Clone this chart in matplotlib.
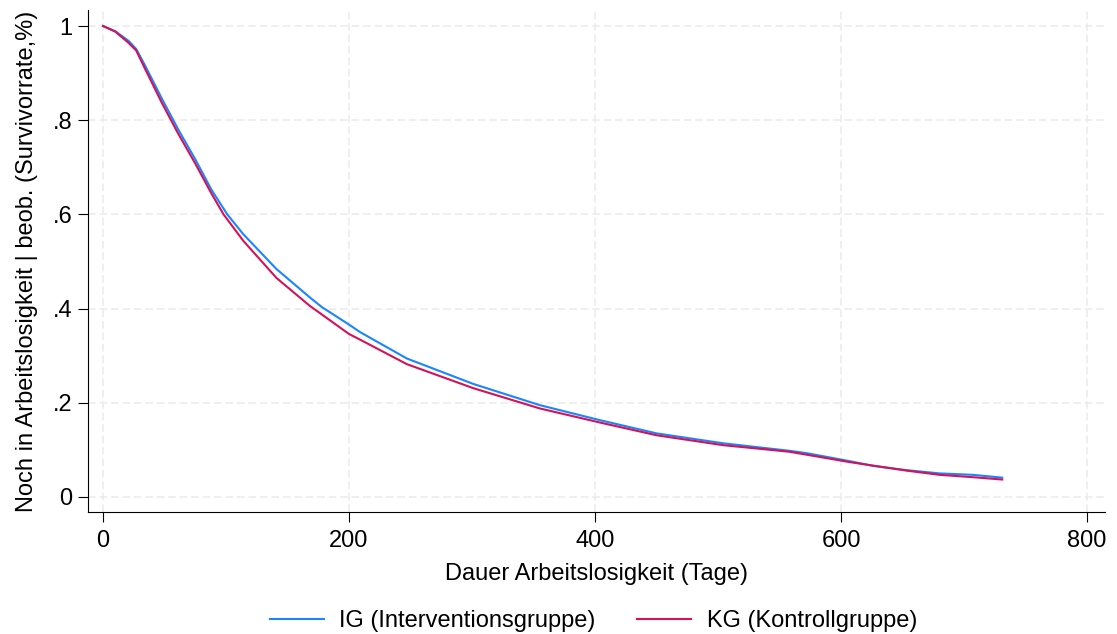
import matplotlib.pyplot as plt

plt.rcParams['font.family'] = ['Liberation Sans', 'DejaVu Sans']

# survivor curves read at selected days
ig_days = [0, 10, 21, 27, 34, 48, 61, 75, 88, 101, 114, 141, 168, 178, 200, 209,
           247, 301, 355, 404, 450, 504, 558, 572, 607, 626, 653, 680, 707, 731]
ig_surv = [1.0, 0.989, 0.968, 0.951, 0.917, 0.845, 0.781, 0.717, 0.653, 0.60,
           0.558, 0.484, 0.424, 0.403, 0.366, 0.350, 0.294, 0.240, 0.195, 0.163,
           0.135, 0.114, 0.098, 0.093, 0.076, 0.066, 0.057, 0.050, 0.047, 0.041]

kg_days = [0, 10, 20, 27, 34, 48, 61, 75, 88, 98, 114, 141, 168, 200, 209,
           247, 301, 355, 404, 450, 504, 558, 607, 653, 680, 707, 731]
kg_surv = [1.0, 0.988, 0.966, 0.948, 0.910, 0.836, 0.772, 0.708, 0.645, 0.60,
           0.544, 0.465, 0.406, 0.346, 0.334, 0.282, 0.231, 0.188, 0.158, 0.131,
           0.110, 0.096, 0.074, 0.056, 0.047, 0.042, 0.037]

x_ticks = [0, 200, 400, 600, 800]
y_ticks = [0, 0.2, 0.4, 0.6, 0.8, 1.0]
y_labels = ['0', '.2', '.4', '.6', '.8', '1']

fig = plt.figure(figsize=(11.17, 6.34), dpi=100)
ax = fig.add_axes([0.0788, 0.1924, 0.9105, 0.7918])

ax.plot(ig_days, ig_surv, color='#1a85ff', lw=1.5, label='IG (Interventionsgruppe)')
ax.plot(kg_days, kg_surv, color='#d41159', lw=1.5, label='KG (Kontrollgruppe)')

ax.set_xlim(-12.2, 814.6)
ax.set_ylim(-0.032, 1.034)
ax.set_xticks(x_ticks)
ax.set_yticks(y_ticks)
ax.set_yticklabels(y_labels)

ax.grid(True, color='#ebebeb', lw=1.1, linestyle=(0, (5, 2.5)))
ax.set_axisbelow(True)
for side in ['top', 'right']:
    ax.spines[side].set_visible(False)
for side in ['left', 'bottom']:
    ax.spines[side].set_linewidth(0.8)
ax.tick_params(labelsize=17, length=7, width=0.8)
ax.tick_params(axis='x', pad=6)
ax.tick_params(axis='y', pad=4)

ax.set_xlabel('Dauer Arbeitslosigkeit (Tage)', fontsize=17, labelpad=8)
ax.set_ylabel('Noch in Arbeitslosigkeit | beob. (Survivorrate,%)', fontsize=17, labelpad=11)

ax.legend(loc='center', bbox_to_anchor=(0.497, -0.217), ncol=2, frameon=False,
          fontsize=17, handlelength=2.3, handletextpad=0.65, columnspacing=1.75)

fig.savefig('out.png', dpi=100)
